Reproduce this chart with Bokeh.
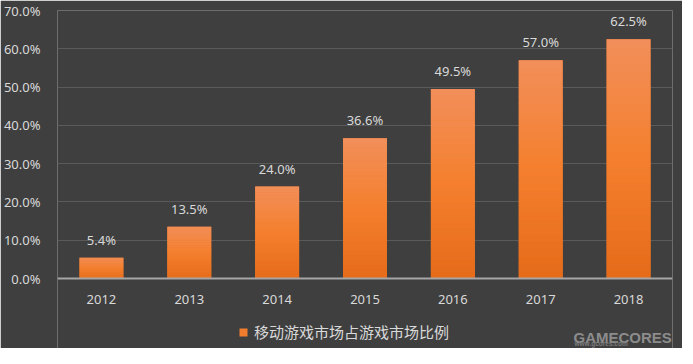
import numpy as np
from bokeh.plotting import figure
from bokeh.core.properties import value
from bokeh.models import (ColumnDataSource, FixedTicker, NumeralTickFormatter,
                          LabelSet, Legend, LegendItem, Range1d, Label)
from bokeh.embed import file_html
from bokeh.resources import INLINE

years = ["2012", "2013", "2014", "2015", "2016", "2017", "2018"]
share = [0.054, 0.135, 0.240, 0.366, 0.495, 0.570, 0.625]
share_labels = ["5.4%", "13.5%", "24.0%", "36.6%", "49.5%", "57.0%", "62.5%"]
y_ticks = [0.0, 0.1, 0.2, 0.3, 0.4, 0.5, 0.6, 0.7]
series_name = "移动游戏市场占游戏市场比例"

BG = "#3f3f3f"
TXT = "#d9d9d9"
FONT = "Noto Sans"

# layout (pixels)
FRAME_H = 338          # frame spans whole lower area; x axis sits at y=0
PLOT_PX = 268          # pixels from 0% to 70%
Y_MAX = 0.7
y_min = -Y_MAX * (FRAME_H - PLOT_PX) / PLOT_PX

src = ColumnDataSource(dict(x=years, y=share, lab=share_labels))

p = figure(x_range=years, y_range=Range1d(y_min, Y_MAX),
           frame_width=615, frame_height=FRAME_H,
           output_backend="svg", toolbar_location=None,
           min_border_left=52, min_border_right=10, min_border_top=10,
           min_border_bottom=0)
p.background_fill_color = BG
p.border_fill_color = BG
p.outline_line_color = None

# base bar (used for legend), then gradient slices on top
r = p.vbar(x="x", top="y", width=0.5, source=src, fill_color="#f07c2e",
           line_color=None)

def mix(c1, c2, t):
    a = np.array([int(c1[i:i + 2], 16) for i in (1, 3, 5)], float)
    b = np.array([int(c2[i:i + 2], 16) for i in (1, 3, 5)], float)
    c = a + (b - a) * t
    return "#%02x%02x%02x" % tuple(int(round(v)) for v in c)

C_TOP, C_MID, C_BOT = "#f28f5a", "#f47f2e", "#e56b19"
N = 30
xs, bots, tops, cols = [], [], [], []
for yr, v in zip(years, share):
    for i in range(N):
        t = (i + 0.5) / N  # 0 bottom -> 1 top
        if t < 0.5:
            col = mix(C_BOT, C_MID, t / 0.5)
        else:
            col = mix(C_MID, C_TOP, (t - 0.5) / 0.5)
        xs.append(yr)
        bots.append(v * i / N)
        tops.append(v * (i + 1) / N + (0 if i == N - 1 else v * 0.002))
        cols.append(col)
p.vbar(x=xs, bottom=bots, top=tops, width=0.5, fill_color=cols, line_color=None)

p.yaxis.ticker = FixedTicker(ticks=y_ticks)
p.yaxis.formatter = NumeralTickFormatter(format="0.0%")
for ax in (p.xaxis, p.yaxis):
    ax.major_tick_line_color = None
    ax.minor_tick_line_color = None
    ax.major_label_text_color = TXT
    ax.major_label_text_font = FONT
    ax.major_label_text_font_size = "13px"
p.yaxis.axis_line_color = None
p.yaxis.major_label_standoff = 11
p.xaxis.fixed_location = 0
p.xaxis.axis_line_color = "#a6a6a6"
p.xaxis.axis_line_width = 2
p.xaxis.major_label_standoff = 10
p.xgrid.grid_line_color = None
p.ygrid.grid_line_color = "#5a5a5a"
p.ygrid.grid_line_width = 1

labels = LabelSet(x="x", y="y", text="lab", source=src, text_align="center",
                  text_baseline="middle", y_offset=18, text_color=TXT,
                  text_font=value(FONT), text_font_size="13px")
p.add_layout(labels)

legend = Legend(items=[LegendItem(label=series_name, renderers=[r])],
                location=(181, 6), orientation="horizontal",
                background_fill_alpha=0, border_line_alpha=0,
                label_text_color=TXT, label_text_font="Noto Sans CJK SC",
                label_text_font_size="15px", glyph_width=10, glyph_height=10,
                padding=0, margin=0, label_standoff=6)
p.add_layout(legend)

wm = Label(x=516, y=11, x_units="screen", y_units="screen", text="GAMECORES",
           text_color="#8c8c8c", text_font="Liberation Sans", text_font_style="bold",
           text_font_size="15px", text_baseline="alphabetic")
p.add_layout(wm)
wm2 = Label(x=517, y=5, x_units="screen", y_units="screen", text="www.gcores.com",
            text_color="#7c7c7c", text_font="Liberation Sans", text_font_style="bold",
            text_font_size="6.5px", text_baseline="alphabetic")
p.add_layout(wm2)

open("out.html", "w").write(file_html(p, INLINE))
